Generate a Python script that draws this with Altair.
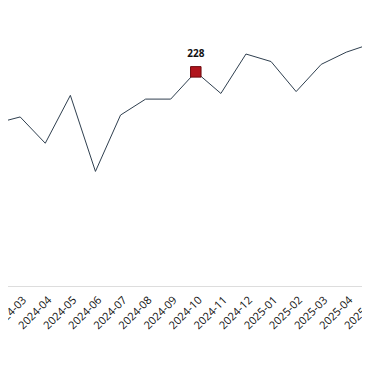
import altair as alt
import pandas as pd

months = ["2024-02", "2024-03", "2024-04", "2024-05", "2024-06", "2024-07", "2024-08",
          "2024-09", "2024-10", "2024-11", "2024-12", "2025-01", "2025-02", "2025-03",
          "2025-04", "2025-05"]
values = [173, 180, 152, 203, 122, 182, 199, 199, 228, 205, 247, 239, 207, 236, 249, 258]
highlight_month = "2024-10"

df = pd.DataFrame({"month": months, "value": values})
df["hl"] = df["month"] == highlight_month

x = alt.X("month:O", sort=months, title=None,
          scale=alt.Scale(type="point", padding=0, range=[-12.9, 363.4]),
          axis=alt.Axis(labelAngle=-45, ticks=False, grid=False, domainColor="#dddddd",
                        labelFontSize=11, labelColor="#111111", labelFont="Open Sans",
                        labelPadding=8))
y = alt.Y("value:Q", axis=None, scale=alt.Scale(domain=[0, 296], nice=False, zero=True))

base = alt.Chart(df)
line = base.mark_line(color="#2f3f4f", strokeWidth=1).encode(x=x, y=y)
pt = base.transform_filter(alt.datum.hl).mark_square(
    size=110, color="#b0141c", stroke="#6e0a0e", strokeWidth=1, opacity=1
).encode(x=x, y=y)
lbl = base.transform_filter(alt.datum.hl).mark_text(
    dy=-18, fontWeight="bold", fontSize=10, color="#111111", font="Open Sans"
).encode(x=x, y=y, text="value:Q")

chart = alt.layer(line, pt, lbl).properties(
    width=354, height=278,
    autosize=alt.AutoSizeParams(type="none"),
    padding={"left": 0, "right": 0, "top": 0, "bottom": 70},
).configure_view(stroke=None)

chart.save("out.html", embed_options={"renderer": "svg", "actions": False})
